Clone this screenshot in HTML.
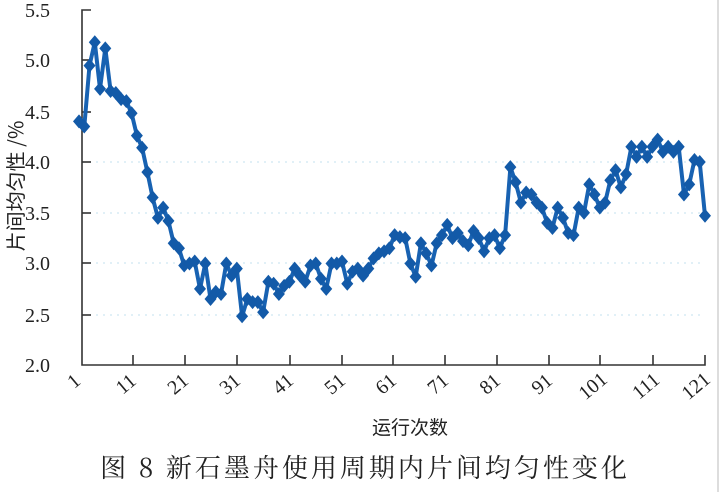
<!DOCTYPE html>
<html><head><meta charset="utf-8"><style>
html,body{margin:0;padding:0;background:#fff;}
svg{display:block;}
text{font-family:"Liberation Serif","Noto Serif CJK SC",serif;fill:#222;}
</style></head><body>
<svg id="s" width="721" height="492" viewBox="0 0 721 492" xmlns="http://www.w3.org/2000/svg">
<line x1="718" y1="0" x2="718" y2="492" stroke="#ddd" stroke-width="2"/>
<g stroke="#cfe8f2" stroke-width="1.2" stroke-dasharray="2,5">
<line x1="82" y1="162" x2="705" y2="162"/>
<line x1="82" y1="213" x2="705" y2="213"/>
<line x1="82" y1="263" x2="705" y2="263"/>
<line x1="82" y1="315" x2="705" y2="315"/>
</g>
<g stroke="#333" stroke-width="1.6" fill="none">
<polyline points="91,10 82,10 82,365 705,365 705,355"/>
<line x1="82" y1="60" x2="91" y2="60"/>
<line x1="82" y1="112" x2="91" y2="112"/>
<line x1="82" y1="162" x2="91" y2="162"/>
<line x1="82" y1="213" x2="91" y2="213"/>
<line x1="82" y1="263" x2="91" y2="263"/>
<line x1="82" y1="315" x2="91" y2="315"/>
<line x1="133" y1="365" x2="133" y2="355"/>
<line x1="185" y1="365" x2="185" y2="355"/>
<line x1="237" y1="365" x2="237" y2="355"/>
<line x1="290" y1="365" x2="290" y2="355"/>
<line x1="342" y1="365" x2="342" y2="355"/>
<line x1="393" y1="365" x2="393" y2="355"/>
<line x1="445" y1="365" x2="445" y2="355"/>
<line x1="497" y1="365" x2="497" y2="355"/>
<line x1="549" y1="365" x2="549" y2="355"/>
<line x1="600" y1="365" x2="600" y2="355"/>
<line x1="653" y1="365" x2="653" y2="355"/>
</g>
<g font-size="20" text-anchor="end">
<text x="50" y="17">5.5</text><text x="50" y="67">5.0</text><text x="50" y="119">4.5</text>
<text x="50" y="169">4.0</text><text x="50" y="220">3.5</text><text x="50" y="270">3.0</text>
<text x="50" y="322">2.5</text><text x="50" y="372">2.0</text>
</g>
<g font-size="20" text-anchor="middle">
<text transform="translate(78,386) rotate(-40)">1</text>
<text transform="translate(130,389) rotate(-40)">11</text>
<text transform="translate(182,389) rotate(-40)">21</text>
<text transform="translate(234,389) rotate(-40)">31</text>
<text transform="translate(287,389) rotate(-40)">41</text>
<text transform="translate(339,389) rotate(-40)">51</text>
<text transform="translate(390,389) rotate(-40)">61</text>
<text transform="translate(442,389) rotate(-40)">71</text>
<text transform="translate(494,389) rotate(-40)">81</text>
<text transform="translate(546,389) rotate(-40)">91</text>
<text transform="translate(597,391) rotate(-40)">101</text>
<text transform="translate(650,391) rotate(-40)">111</text>
<text transform="translate(700,391) rotate(-40)">121</text>
</g>
<text transform="translate(23,186) rotate(-90)" font-size="20" text-anchor="middle" style='font-family:"Noto Sans CJK SC",sans-serif'>片间均匀性 /%</text>
<text x="410" y="434" font-size="19" text-anchor="middle" style='font-family:"Noto Sans CJK SC",sans-serif'>运行次数</text>
<text x="365" y="477" font-size="26" text-anchor="middle" letter-spacing="3" style='font-family:"Noto Serif CJK SC",serif'>图 8  新石墨舟使用周期内片间均匀性变化</text>
<g id="d"></g>
</svg>
<script>
var v=[4.40,4.35,4.95,5.18,4.72,5.12,4.70,4.68,4.62,4.60,4.48,4.26,4.14,3.90,3.65,3.45,3.55,3.42,3.20,3.15,2.98,3.00,3.02,2.75,3.00,2.65,2.72,2.70,3.00,2.88,2.95,2.48,2.65,2.62,2.62,2.52,2.82,2.80,2.70,2.78,2.82,2.95,2.88,2.82,2.98,3.00,2.85,2.75,3.00,3.00,3.02,2.80,2.92,2.95,2.88,2.95,3.05,3.10,3.12,3.15,3.28,3.26,3.25,3.00,2.87,3.20,3.10,2.98,3.20,3.28,3.38,3.25,3.30,3.22,3.18,3.32,3.25,3.12,3.25,3.28,3.15,3.28,3.95,3.80,3.60,3.70,3.68,3.60,3.55,3.40,3.35,3.55,3.45,3.30,3.28,3.55,3.50,3.78,3.68,3.55,3.60,3.82,3.92,3.75,3.88,4.15,4.05,4.15,4.05,4.15,4.22,4.10,4.15,4.10,4.15,3.68,3.78,4.02,4.00,3.47];
var n=v.length,pts=[],h='';
for(var i=0;i<n;i++){var x=79+i*(705-79)/(n-1),y=365-(v[i]-2)*101.5;pts.push(x.toFixed(1)+','+y.toFixed(1));
h+='<polygon points="'+x+','+(y-7)+' '+(x+6)+','+y+' '+x+','+(y+7)+' '+(x-6)+','+y+'" fill="#135aa8"/>';}
document.getElementById('d').innerHTML='<polyline points="'+pts.join(' ')+'" fill="none" stroke="#1862b2" stroke-width="4" stroke-linejoin="round"/>'+h;
</script>
</body></html>
